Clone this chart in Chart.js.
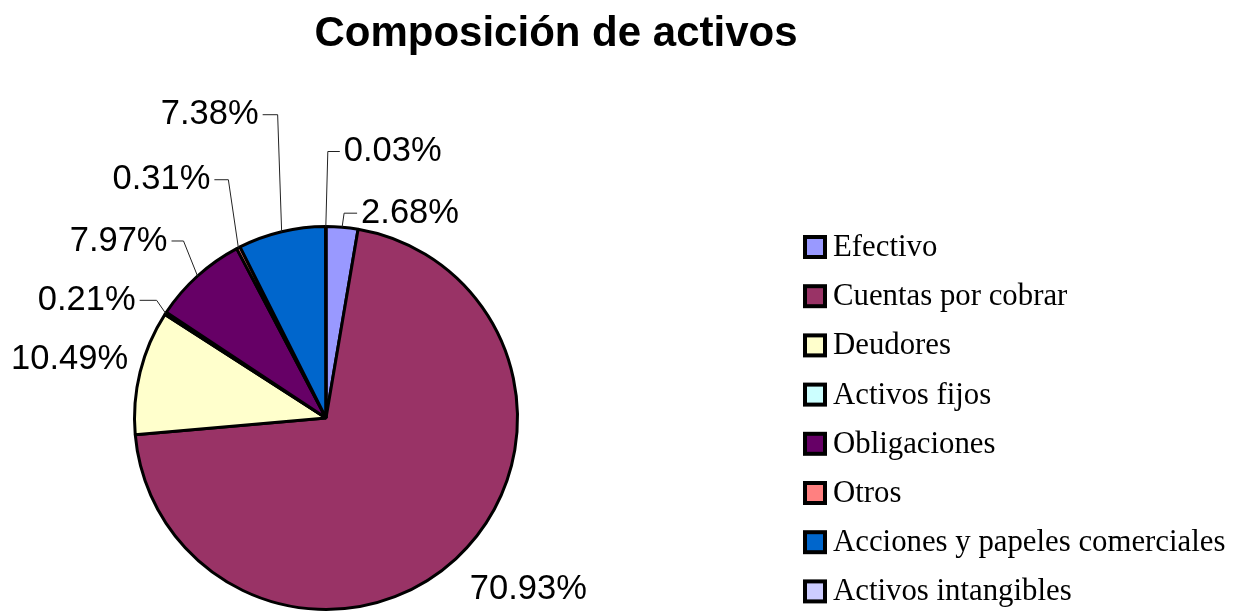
<!DOCTYPE html>
<html>
<head>
<meta charset="utf-8">
<script src="https://cdn.jsdelivr.net/npm/chart.js@4/dist/chart.umd.min.js"></script>
<style>
  html, body { margin: 0; padding: 0; background: #fff; }
  #chart { display: block; }
</style>
</head>
<body>
<canvas id="chart" width="1241" height="613"></canvas>
<script>
// ===== DATA =====
const categories = [
  'Efectivo',
  'Cuentas por cobrar',
  'Deudores',
  'Activos fijos',
  'Obligaciones',
  'Otros',
  'Acciones y papeles comerciales',
  'Activos intangibles'
];
const shares = [2.68, 70.93, 10.49, 0.21, 7.97, 0.31, 7.38, 0.03];
const sliceColors = ['#9999FF', '#993366', '#FFFFCC', '#CCFFFF', '#660066', '#FF8080', '#0066CC', '#CCCCFF'];
const chartTitle = 'Composición de activos';

// label placement relative to the slice's outer edge (hook = horizontal leader, 0 = no leader)
const labelLayout = [
  { dx: 2, dy: -14, hook: 13 },
  { dx: 14, dy: 31, hook: 0 },
  { dx: -12, dy: -13, hook: 0 },
  { dx: -9, dy: -13, hook: -17 },
  { dx: -14, dy: -35, hook: -12 },
  { dx: -10, dy: -68, hook: -14 },
  { dx: -4, dy: -117, hook: -15 },
  { dx: 2, dy: -75, hook: 12 }
];

const labelFont = '34.5px "Liberation Sans", Arial, sans-serif';
const legendFont = '30.8px "Liberation Serif", "Times New Roman", serif';

const decorations = {
  id: 'decorations',
  afterDraw(chart) {
    const ctx = chart.ctx;
    const arcs = chart.getDatasetMeta(0).data;
    ctx.save();

    // title
    ctx.fillStyle = '#000';
    ctx.font = 'bold 42px "Liberation Sans", Arial, sans-serif';
    ctx.textAlign = 'center';
    ctx.textBaseline = 'middle';
    ctx.fillText(chartTitle, 556, 34);

    // percentage labels with leader lines
    ctx.font = labelFont;
    arcs.forEach((arc, i) => {
      const { x, y, startAngle, endAngle, outerRadius } = arc.getProps(['x', 'y', 'startAngle', 'endAngle', 'outerRadius'], true);
      const mid = (startAngle + endAngle) / 2;
      const ax = x + Math.cos(mid) * outerRadius;
      const ay = y + Math.sin(mid) * outerRadius;
      const lay = labelLayout[i];
      const ex = ax + lay.dx;
      const ey = ay + lay.dy;
      const text = shares[i].toFixed(2) + '%';
      ctx.fillStyle = '#000';
      ctx.textBaseline = 'middle';
      if (lay.hook === 0) {
        ctx.textAlign = lay.dx < 0 ? 'right' : 'left';
        ctx.fillText(text, ex, ey);
        return;
      }
      const hx = ex + lay.hook;
      ctx.strokeStyle = '#222';
      ctx.lineWidth = 1;
      ctx.beginPath();
      ctx.moveTo(ax, ay);
      ctx.lineTo(ex, ey);
      ctx.lineTo(hx, ey);
      ctx.stroke();
      const dir = Math.sign(lay.hook);
      ctx.textAlign = dir > 0 ? 'left' : 'right';
      ctx.fillText(text, hx + dir * 4, ey);
    });

    // legend
    ctx.font = legendFont;
    ctx.textAlign = 'left';
    ctx.textBaseline = 'middle';
    categories.forEach((name, i) => {
      const cy = 247 + i * 49.2;
      ctx.fillStyle = '#000';
      ctx.fillRect(803, cy - 12, 24, 24);
      ctx.fillStyle = sliceColors[i];
      ctx.fillRect(807, cy - 8, 16, 16);
      ctx.fillStyle = '#000';
      ctx.fillText(name, 833, cy + 1);
    });
    ctx.restore();
  }
};

new Chart(document.getElementById('chart'), {
  type: 'pie',
  data: {
    labels: categories,
    datasets: [{
      data: shares,
      backgroundColor: sliceColors,
      borderColor: '#000',
      borderWidth: 3
    }]
  },
  options: {
    responsive: false,
    animation: false,
    layout: { padding: { left: 133, top: 225, right: 722, bottom: 2 } },
    plugins: {
      legend: { display: false },
      title: { display: false },
      tooltip: { enabled: false }
    }
  },
  plugins: [decorations]
});
</script>
</body>
</html>
